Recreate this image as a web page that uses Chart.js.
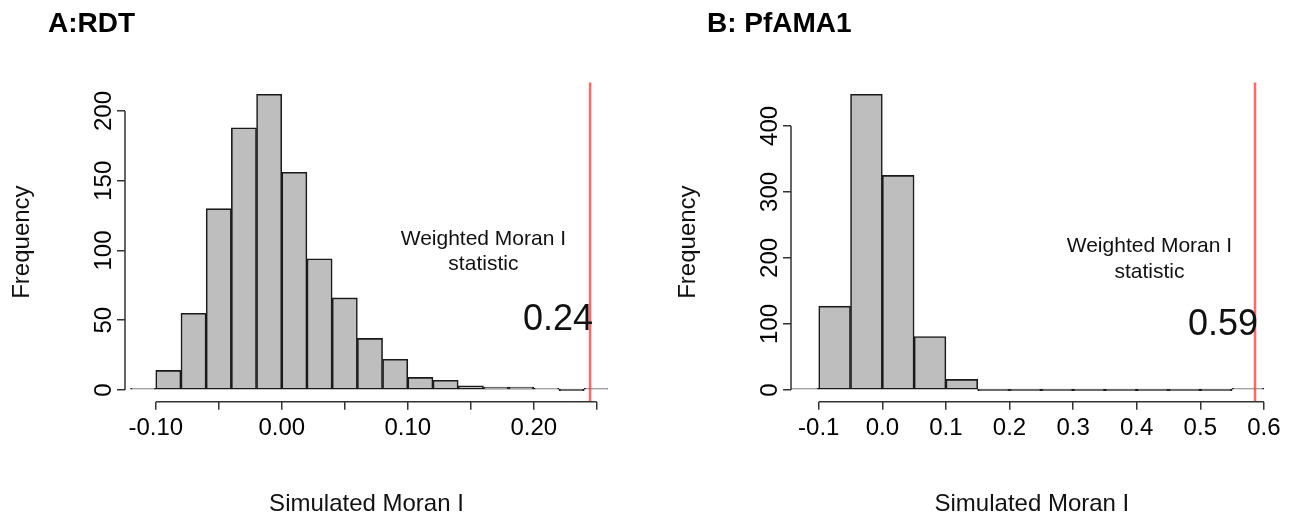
<!DOCTYPE html>
<html><head><meta charset="utf-8">
<script src="https://cdn.jsdelivr.net/npm/chart.js@4.4.1/dist/chart.umd.min.js"></script>
<style>
html,body{margin:0;padding:0;background:#fff;overflow:hidden;}
#wrap{position:relative;width:1297px;height:519px;}
canvas{position:absolute;top:0;}
</style></head><body>
<div id="wrap">
<canvas id="chartA" width="648" height="519" style="left:0"></canvas>
<canvas id="chartB" width="649" height="519" style="left:648px"></canvas>
</div>
<script>
// ---- data: panel A (RDT), bins of width 0.02 ----
const titleA = 'A:RDT';
const binCentersA = [-0.11,-0.09,-0.07,-0.05,-0.03,-0.01,0.01,0.03,0.05,0.07,0.09,0.11,0.13,0.15,0.17,0.19,0.21,0.23,0.25];
const countsA     = [1,14,55,130,188,212,156,94,66,37,22,9,7,3,2,2,1,0,1];
const xTicksA      = [-0.10,-0.05,0.00,0.05,0.10,0.15,0.20,0.25];
const xTickLabelsA = ['-0.10','','0.00','','0.10','','0.20',''];
const yTicksA      = [0,50,100,150,200];
const statA = 0.2447;
const statLabelA = '0.24';

// ---- data: panel B (PfAMA1), bins of width 0.05 ----
const titleB = 'B: PfAMA1';
const binCentersB = [-0.125,-0.075,-0.025,0.025,0.075,0.125,0.175,0.225,0.275,0.325,0.375,0.425,0.475,0.525,0.575];
const countsB     = [2,127,448,325,81,16,0,0,0,0,0,0,0,0,1];
const xTicksB      = [-0.1,0.0,0.1,0.2,0.3,0.4,0.5,0.6];
const xTickLabelsB = ['-0.1','0.0','0.1','0.2','0.3','0.4','0.5','0.6'];
const yTicksB      = [0,100,200,300,400];
const statB = 0.586;
const statLabelB = '0.59';

const xTitle = 'Simulated Moran I';
const yTitle = 'Frequency';
const annotLines = ['Weighted Moran I','statistic'];

const FONT = "'Liberation Sans', Arial, Helvetica, sans-serif";

const rPlugin = {
  id: 'rStyle',
  afterDatasetsDraw(chart, args, o) {
    const {ctx, chartArea, scales: {x, y}} = chart;
    ctx.save();
    const sx = x.getPixelForValue(o.stat);
    ctx.strokeStyle = 'rgba(255,40,40,0.7)';
    ctx.lineWidth = 2.5;
    ctx.beginPath();
    ctx.moveTo(sx, chartArea.top);
    ctx.lineTo(sx, chartArea.bottom);
    ctx.stroke();
    ctx.restore();
  },
  afterDraw(chart, args, o) {
    const {ctx, chartArea, scales: {x, y}} = chart;
    ctx.save();
    ctx.strokeStyle = '#333';
    ctx.lineWidth = 1.5;
    ctx.beginPath();
    ctx.moveTo(x.getPixelForValue(o.xTicks[0]), chartArea.bottom);
    ctx.lineTo(x.getPixelForValue(o.xTicks[o.xTicks.length - 1]), chartArea.bottom);
    ctx.moveTo(chartArea.left, y.getPixelForValue(o.yTicks[0]));
    ctx.lineTo(chartArea.left, y.getPixelForValue(o.yTicks[o.yTicks.length - 1]));
    ctx.stroke();
    ctx.fillStyle = '#111';
    ctx.textAlign = 'center';
    ctx.textBaseline = 'middle';
    ctx.font = '21px ' + FONT;
    ctx.fillText(annotLines[0], x.getPixelForValue(o.annX), y.getPixelForValue(o.annY1));
    ctx.fillText(annotLines[1], x.getPixelForValue(o.annX), y.getPixelForValue(o.annY2));
    ctx.font = '36px ' + FONT;
    ctx.textAlign = 'right';
    ctx.fillText(o.statLabel, x.getPixelForValue(o.stat) + 3, y.getPixelForValue(o.numY));
    ctx.font = 'bold 28px ' + FONT;
    ctx.textAlign = 'left';
    ctx.fillStyle = '#000';
    ctx.fillText(o.title, o.titleX, 24);
    ctx.restore();
  }
};

function makeHist(id, p) {
  const W = p.width, H = 519;
  return new Chart(document.getElementById(id), {
    type: 'bar',
    data: {
      datasets: [{
        data: p.centers.map((c, i) => ({x: c, y: p.counts[i]})),
        backgroundColor: '#bebebe',
        borderColor: '#1a1a1a',
        borderWidth: 1.6,
        borderSkipped: false,
        barPercentage: 1,
        categoryPercentage: 1,
        minBarLength: 1.6,
        grouped: false
      }]
    },
    options: {
      responsive: false,
      animation: false,
      events: [],
      devicePixelRatio: 1,
      layout: { padding: { top: p.plotTop, left: 0, bottom: 0, right: W - p.plotRight } },
      plugins: {
        legend: { display: false },
        tooltip: { enabled: false },
        rStyle: {
          stat: p.stat, statLabel: p.statLabel, xTicks: p.xTicks, yTicks: p.yTicks,
          annX: p.annX, annY1: p.annY1, annY2: p.annY2, numY: p.numY,
          title: p.title, titleX: p.titleX
        }
      },
      scales: {
        x: {
          type: 'linear',
          offset: false,
          bounds: 'data',
          min: p.xMin, max: p.xMax,
          afterBuildTicks: s => { s.ticks = p.xTicks.map(v => ({value: v})); },
          afterFit: s => { s.height = H - p.plotBottom; },
          border: { display: false },
          grid: { display: true, offset: false, drawOnChartArea: false, drawTicks: true, tickLength: 8, tickColor: '#333', lineWidth: 1.5 },
          ticks: {
            autoSkip: false, maxRotation: 0, minRotation: 0, padding: 4,
            color: '#000', font: { family: FONT, size: 24 },
            callback: (v, i) => p.xLabels[i]
          },
          title: { display: true, text: xTitle, color: '#111', font: { family: FONT, size: 24 }, padding: { top: 0, bottom: 0 } }
        },
        y: {
          type: 'linear',
          bounds: 'data',
          min: p.yMin, max: p.yMax,
          afterBuildTicks: s => { s.ticks = p.yTicks.map(v => ({value: v})); },
          afterFit: s => { s.width = p.plotLeft; },
          border: { display: false },
          grid: { display: true, drawOnChartArea: false, drawTicks: true, tickLength: 8, tickColor: '#333', lineWidth: 1.5 },
          ticks: {
            autoSkip: false, minRotation: 90, maxRotation: 90, crossAlign: 'center', padding: -7,
            color: '#000', font: { family: FONT, size: 24 },
            callback: v => String(v)
          },
          title: { display: true, text: yTitle, color: '#111', font: { family: FONT, size: 24 }, padding: { top: p.yTitlePad, bottom: 0 } }
        }
      }
    },
    plugins: [rPlugin]
  });
}

makeHist('chartA', {
  width: 648, plotTop: 82.4, plotBottom: 401.8, plotLeft: 125, plotRight: 608,
  xMin: -0.1244, xMax: 0.2589, yMin: -8.48, yMax: 220.48,
  centers: binCentersA, counts: countsA, xTicks: xTicksA, xLabels: xTickLabelsA, yTicks: yTicksA,
  stat: statA, statLabel: statLabelA, annX: 0.16, annY1: 108, annY2: 90, numY: 50,
  title: titleA, titleX: 48, yTitlePad: 7.6
});
makeHist('chartB', {
  width: 649, plotTop: 82.4, plotBottom: 401.8, plotLeft: 143, plotRight: 624.8,
  xMin: -0.1436, xMax: 0.614, yMin: -17.92, yMax: 465.92,
  centers: binCentersB, counts: countsB, xTicks: xTicksB, xLabels: xTickLabelsB, yTicks: yTicksB,
  stat: statB, statLabel: statLabelB, annX: 0.42, annY1: 218, annY2: 178, numY: 98,
  title: titleB, titleX: 59, yTitlePad: 25.6
});
</script>
</body></html>
